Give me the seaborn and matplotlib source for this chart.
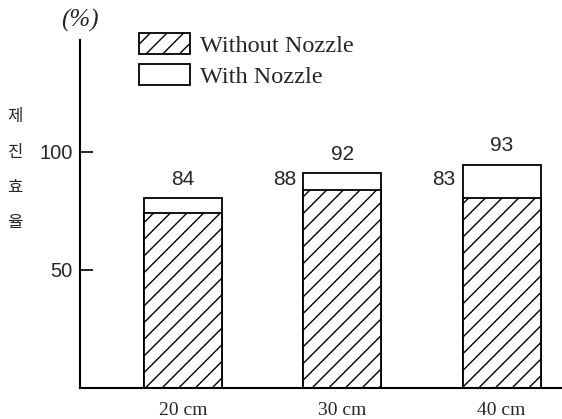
import matplotlib
matplotlib.use("Agg")
import matplotlib.pyplot as plt
import seaborn as sns

# datos
categorias = ["20 cm", "30 cm", "40 cm"]
sin_boquilla = [74, 84, 80.5]      # Without Nozzle (parte rayada)
con_boquilla = [80.5, 91, 94.5]    # With Nozzle (altura total de la barra)
etiqueta_arriba = ["84", "92", "93"]
etiqueta_lado = ["", "88", "83"]
yticks = [50, 100]

sns.set_theme(style="white")
plt.rcParams["font.family"] = ["Liberation Serif", "DejaVu Sans"]
plt.rcParams["hatch.linewidth"] = 1.0

fig = plt.figure(figsize=(5.62, 4.19), dpi=100)
ax = fig.add_axes([0.142, 0.074, 0.858, 0.831])

# barra total (blanca) y encima la parte rayada
sns.barplot(x=categorias, y=con_boquilla, color="white", edgecolor="black",
            linewidth=1.3, width=0.49, label="With Nozzle", ax=ax)
sns.barplot(x=categorias, y=sin_boquilla, color="white", edgecolor="black",
            linewidth=1.3, width=0.49, hatch="//", label="Without Nozzle", ax=ax)

ax.set_xlim(-0.65, 2.38)
ax.set_ylim(0, 147.5)
ax.set_yticks(yticks)
ax.set_yticklabels([str(t) for t in yticks], family="Liberation Sans", fontsize=14.5)
ax.tick_params(axis="y", direction="in", length=9, width=1.2, color="black",
               left=True, pad=5)
ax.tick_params(axis="x", length=0, pad=10, labelsize=14)
for lab in ax.get_xticklabels():
    lab.set_family("Liberation Serif")

for s in ["top", "right"]:
    ax.spines[s].set_visible(False)
for s in ["left", "bottom"]:
    ax.spines[s].set_color("black")
    ax.spines[s].set_linewidth(1.5)

# etiquetas numericas
for i in range(len(categorias)):
    ax.text(i, con_boquilla[i] + 4, etiqueta_arriba[i], ha="center", va="bottom",
            family="Liberation Sans", fontsize=15)
    if etiqueta_lado[i]:
        ax.text(i - 0.29, (con_boquilla[i] + sin_boquilla[i]) / 2 + 1, etiqueta_lado[i],
                ha="right", va="center", family="Liberation Sans", fontsize=15)

handles, labels = ax.get_legend_handles_labels()
orden = [labels.index("Without Nozzle"), labels.index("With Nozzle")]
ax.legend([handles[k] for k in orden], [labels[k] for k in orden],
          loc="upper left", bbox_to_anchor=(0.247, 0.922), bbox_transform=fig.transFigure,
          frameon=False, fontsize=17.5, handlelength=2.1, handleheight=0.95,
          borderpad=0, borderaxespad=0, labelspacing=0.3, handletextpad=0.4)

fig.text(0.142, 0.952, "(%)", ha="center", va="center", fontsize=18, style="italic")
fig.text(0.027, 0.595, "제\n진\n효\n율", ha="center", va="center", fontsize=12,
         linespacing=2.4, family=["Noto Sans CJK KR", "DejaVu Sans"])

fig.savefig("out.png", dpi=100)
